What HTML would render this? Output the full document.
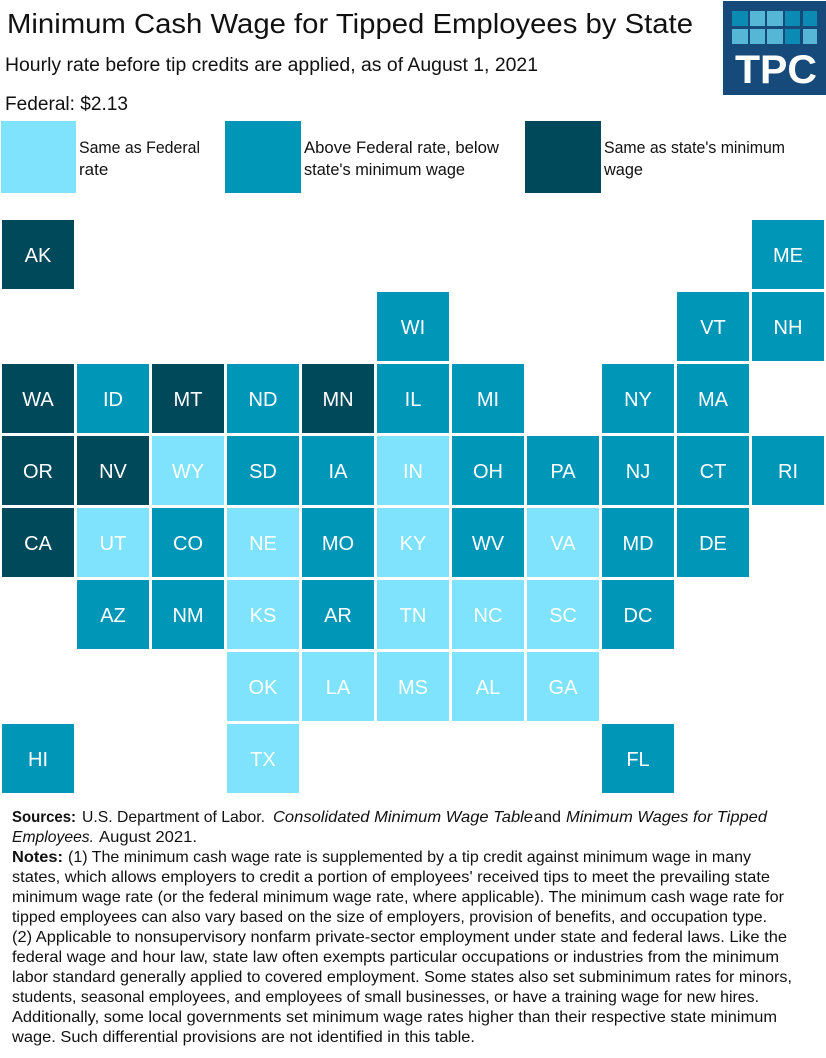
<!DOCTYPE html>
<html>
<head>
<meta charset="utf-8">
<style>
html,body{margin:0;padding:0;background:#fff;}
svg{display:block;}
text{font-family:"Liberation Sans",sans-serif;}
</style>
</head>
<body>
<svg width="826" height="1058" viewBox="0 0 826 1058" xmlns="http://www.w3.org/2000/svg">
<rect width="826" height="1058" fill="#fff"/>
<!-- Title -->
<text x="7" y="33" font-size="28" fill="#111" textLength="686" lengthAdjust="spacingAndGlyphs">Minimum Cash Wage for Tipped Employees by State</text>
<text x="5" y="71" font-size="19" fill="#111" textLength="533" lengthAdjust="spacingAndGlyphs">Hourly rate before tip credits are applied, as of August 1, 2021</text>
<text x="5" y="110" font-size="19" fill="#111" textLength="123" lengthAdjust="spacingAndGlyphs">Federal: $2.13</text>

<!-- Logo -->
<rect x="723" y="1" width="103" height="94" fill="#164a7a"/>
<g>
<rect x="732" y="11" width="16" height="15" fill="#0b8ab3"/>
<rect x="750" y="11" width="15" height="15" fill="#56b6d6"/>
<rect x="767" y="11" width="16" height="15" fill="#56b6d6"/>
<rect x="785" y="11" width="15" height="15" fill="#0b8ab3"/>
<rect x="803" y="11" width="14" height="15" fill="#0b8ab3"/>
<rect x="732" y="29" width="16" height="15" fill="#56b6d6"/>
<rect x="750" y="29" width="15" height="15" fill="#56b6d6"/>
<rect x="767" y="29" width="16" height="15" fill="#56b6d6"/>
<rect x="785" y="29" width="15" height="15" fill="#0b8ab3"/>
<rect x="803" y="29" width="14" height="15" fill="#56b6d6"/>
</g>
<text x="735" y="83" font-size="40" font-weight="bold" fill="#fff" textLength="82" lengthAdjust="spacingAndGlyphs">TPC</text>

<!-- Legend -->
<rect x="1" y="121" width="75" height="72" fill="#7fe3fe"/>
<text x="79" y="153" font-size="17" fill="#111" textLength="121" lengthAdjust="spacingAndGlyphs">Same as Federal</text>
<text x="79" y="175" font-size="17" fill="#111">rate</text>
<rect x="225" y="121" width="76" height="72" fill="#0096b8"/>
<text x="304" y="153" font-size="17" fill="#111" textLength="195" lengthAdjust="spacingAndGlyphs">Above Federal rate, below</text>
<text x="304" y="175" font-size="17" fill="#111" textLength="161" lengthAdjust="spacingAndGlyphs">state's minimum wage</text>
<rect x="525" y="121" width="76" height="72" fill="#00495a"/>
<text x="604" y="153" font-size="17" fill="#111" textLength="181" lengthAdjust="spacingAndGlyphs">Same as state's minimum</text>
<text x="604" y="175" font-size="17" fill="#111" textLength="39" lengthAdjust="spacingAndGlyphs">wage</text>

<!-- Tiles -->
<g font-size="20" fill="#fff" text-anchor="middle">
<!-- row 0 y=220 -->
<rect x="2" y="220" width="72" height="69" fill="#00495a"/><text x="38" y="262" fill="#fff">AK</text>
<rect x="752" y="220" width="72" height="69" fill="#0096b8"/><text x="788" y="262" fill="#fff">ME</text>
<!-- row 1 y=292 -->
<rect x="377" y="292" width="72" height="69" fill="#0096b8"/><text x="413" y="334" fill="#fff">WI</text>
<rect x="677" y="292" width="72" height="69" fill="#0096b8"/><text x="713" y="334" fill="#fff">VT</text>
<rect x="752" y="292" width="72" height="69" fill="#0096b8"/><text x="788" y="334" fill="#fff">NH</text>
<!-- row 2 y=364 -->
<rect x="2" y="364" width="72" height="69" fill="#00495a"/><text x="38" y="406" fill="#fff">WA</text>
<rect x="77" y="364" width="72" height="69" fill="#0096b8"/><text x="113" y="406" fill="#fff">ID</text>
<rect x="152" y="364" width="72" height="69" fill="#00495a"/><text x="188" y="406" fill="#fff">MT</text>
<rect x="227" y="364" width="72" height="69" fill="#0096b8"/><text x="263" y="406" fill="#fff">ND</text>
<rect x="302" y="364" width="72" height="69" fill="#00495a"/><text x="338" y="406" fill="#fff">MN</text>
<rect x="377" y="364" width="72" height="69" fill="#0096b8"/><text x="413" y="406" fill="#fff">IL</text>
<rect x="452" y="364" width="72" height="69" fill="#0096b8"/><text x="488" y="406" fill="#fff">MI</text>
<rect x="602" y="364" width="72" height="69" fill="#0096b8"/><text x="638" y="406" fill="#fff">NY</text>
<rect x="677" y="364" width="72" height="69" fill="#0096b8"/><text x="713" y="406" fill="#fff">MA</text>
<!-- row 3 y=436 -->
<rect x="2" y="436" width="72" height="69" fill="#00495a"/><text x="38" y="478" fill="#fff">OR</text>
<rect x="77" y="436" width="72" height="69" fill="#00495a"/><text x="113" y="478" fill="#fff">NV</text>
<rect x="152" y="436" width="72" height="69" fill="#7fe3fe"/><text x="188" y="478" fill="#fff">WY</text>
<rect x="227" y="436" width="72" height="69" fill="#0096b8"/><text x="263" y="478" fill="#fff">SD</text>
<rect x="302" y="436" width="72" height="69" fill="#0096b8"/><text x="338" y="478" fill="#fff">IA</text>
<rect x="377" y="436" width="72" height="69" fill="#7fe3fe"/><text x="413" y="478" fill="#fff">IN</text>
<rect x="452" y="436" width="72" height="69" fill="#0096b8"/><text x="488" y="478" fill="#fff">OH</text>
<rect x="527" y="436" width="72" height="69" fill="#0096b8"/><text x="563" y="478" fill="#fff">PA</text>
<rect x="602" y="436" width="72" height="69" fill="#0096b8"/><text x="638" y="478" fill="#fff">NJ</text>
<rect x="677" y="436" width="72" height="69" fill="#0096b8"/><text x="713" y="478" fill="#fff">CT</text>
<rect x="752" y="436" width="72" height="69" fill="#0096b8"/><text x="788" y="478" fill="#fff">RI</text>
<!-- row 4 y=508 -->
<rect x="2" y="508" width="72" height="69" fill="#00495a"/><text x="38" y="550" fill="#fff">CA</text>
<rect x="77" y="508" width="72" height="69" fill="#7fe3fe"/><text x="113" y="550" fill="#fff">UT</text>
<rect x="152" y="508" width="72" height="69" fill="#0096b8"/><text x="188" y="550" fill="#fff">CO</text>
<rect x="227" y="508" width="72" height="69" fill="#7fe3fe"/><text x="263" y="550" fill="#fff">NE</text>
<rect x="302" y="508" width="72" height="69" fill="#0096b8"/><text x="338" y="550" fill="#fff">MO</text>
<rect x="377" y="508" width="72" height="69" fill="#7fe3fe"/><text x="413" y="550" fill="#fff">KY</text>
<rect x="452" y="508" width="72" height="69" fill="#0096b8"/><text x="488" y="550" fill="#fff">WV</text>
<rect x="527" y="508" width="72" height="69" fill="#7fe3fe"/><text x="563" y="550" fill="#fff">VA</text>
<rect x="602" y="508" width="72" height="69" fill="#0096b8"/><text x="638" y="550" fill="#fff">MD</text>
<rect x="677" y="508" width="72" height="69" fill="#0096b8"/><text x="713" y="550" fill="#fff">DE</text>
<!-- row 5 y=580 -->
<rect x="77" y="580" width="72" height="69" fill="#0096b8"/><text x="113" y="622" fill="#fff">AZ</text>
<rect x="152" y="580" width="72" height="69" fill="#0096b8"/><text x="188" y="622" fill="#fff">NM</text>
<rect x="227" y="580" width="72" height="69" fill="#7fe3fe"/><text x="263" y="622" fill="#fff">KS</text>
<rect x="302" y="580" width="72" height="69" fill="#0096b8"/><text x="338" y="622" fill="#fff">AR</text>
<rect x="377" y="580" width="72" height="69" fill="#7fe3fe"/><text x="413" y="622" fill="#fff">TN</text>
<rect x="452" y="580" width="72" height="69" fill="#7fe3fe"/><text x="488" y="622" fill="#fff">NC</text>
<rect x="527" y="580" width="72" height="69" fill="#7fe3fe"/><text x="563" y="622" fill="#fff">SC</text>
<rect x="602" y="580" width="72" height="69" fill="#0096b8"/><text x="638" y="622" fill="#fff">DC</text>
<!-- row 6 y=652 -->
<rect x="227" y="652" width="72" height="69" fill="#7fe3fe"/><text x="263" y="694" fill="#fff">OK</text>
<rect x="302" y="652" width="72" height="69" fill="#7fe3fe"/><text x="338" y="694" fill="#fff">LA</text>
<rect x="377" y="652" width="72" height="69" fill="#7fe3fe"/><text x="413" y="694" fill="#fff">MS</text>
<rect x="452" y="652" width="72" height="69" fill="#7fe3fe"/><text x="488" y="694" fill="#fff">AL</text>
<rect x="527" y="652" width="72" height="69" fill="#7fe3fe"/><text x="563" y="694" fill="#fff">GA</text>
<!-- row 7 y=724 -->
<rect x="2" y="724" width="72" height="69" fill="#0096b8"/><text x="38" y="766" fill="#fff">HI</text>
<rect x="227" y="724" width="72" height="69" fill="#7fe3fe"/><text x="263" y="766" fill="#fff">TX</text>
<rect x="602" y="724" width="72" height="69" fill="#0096b8"/><text x="638" y="766" fill="#fff">FL</text>
</g>

<!-- Footer -->
<g font-size="16" fill="#111">
<text x="12" y="822" font-weight="bold" textLength="64" lengthAdjust="spacingAndGlyphs">Sources:</text>
<text x="82" y="822" textLength="183" lengthAdjust="spacingAndGlyphs">U.S. Department of Labor.</text>
<text x="273" y="822" font-style="italic" textLength="260" lengthAdjust="spacingAndGlyphs">Consolidated Minimum Wage Table</text>
<text x="534" y="822" textLength="27" lengthAdjust="spacingAndGlyphs">and</text>
<text x="566" y="822" font-style="italic" textLength="201" lengthAdjust="spacingAndGlyphs">Minimum Wages for Tipped</text>

<text x="12" y="842" font-style="italic" textLength="82" lengthAdjust="spacingAndGlyphs">Employees.</text>
<text x="99" y="842" textLength="98" lengthAdjust="spacingAndGlyphs">August 2021.</text>

<text x="12" y="862" font-weight="bold" textLength="51" lengthAdjust="spacingAndGlyphs">Notes:</text>
<text x="68" y="862" textLength="683" lengthAdjust="spacingAndGlyphs">(1) The minimum cash wage rate is supplemented by a tip credit against minimum wage in many</text>

<text x="12" y="882" textLength="758" lengthAdjust="spacingAndGlyphs">states, which allows employers to credit a portion of employees' received tips to meet the prevailing state</text>
<text x="12" y="902" textLength="772" lengthAdjust="spacingAndGlyphs">minimum wage rate (or the federal minimum wage rate, where applicable). The minimum cash wage rate for</text>
<text x="12" y="922" textLength="755" lengthAdjust="spacingAndGlyphs">tipped employees can also vary based on the size of employers, provision of benefits, and occupation type.</text>
<text x="12" y="942" textLength="775" lengthAdjust="spacingAndGlyphs">(2) Applicable to nonsupervisory nonfarm private-sector employment under state and federal laws. Like the</text>
<text x="12" y="962" textLength="767" lengthAdjust="spacingAndGlyphs">federal wage and hour law, state law often exempts particular occupations or industries from the minimum</text>
<text x="12" y="982" textLength="780" lengthAdjust="spacingAndGlyphs">labor standard generally applied to covered employment. Some states also set subminimum rates for minors,</text>
<text x="12" y="1002" textLength="747" lengthAdjust="spacingAndGlyphs">students, seasonal employees, and employees of small businesses, or have a training wage for new hires.</text>
<text x="12" y="1022" textLength="765" lengthAdjust="spacingAndGlyphs">Additionally, some local governments set minimum wage rates higher than their respective state minimum</text>
<text x="12" y="1042" textLength="463" lengthAdjust="spacingAndGlyphs">wage. Such differential provisions are not identified in this table.</text>
</g>
</svg>
</body>
</html>
